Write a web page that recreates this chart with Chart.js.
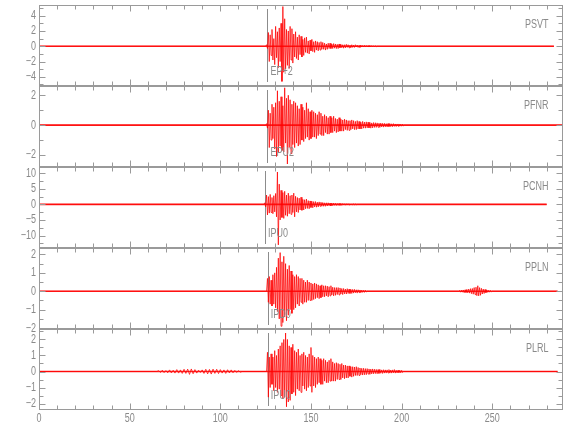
<!DOCTYPE html>
<html>
<head>
<meta charset="utf-8">
<script src="https://cdn.jsdelivr.net/npm/chart.js@4"></script>
<style>
  html, body { margin: 0; padding: 0; background: #fff; }
  #wrap { width: 580px; height: 440px; }
</style>
</head>
<body>
<div id="wrap"><canvas id="seis" width="580" height="440"></canvas></div>
<script>
// station traces, top to bottom
const stations = ["PSVT", "PFNR", "PCNH", "PPLN", "PLRL"];
const pickLabels = ["EP+2", "EPU2", "IPU0", "IPD0", "IPU0"];
const pickTimes = [126, 126, 124.7, 126.2, 126.2];
const eventStarts = [125.5, 125.5, 124.5, 126, 126];
const traceEnds = [284, 289, 280, 286, 286];
const sampleStep = 0.5;

const yMins = [-5.2, -2.8, -14, -2.05, -2.4];
const yMaxs = [5.4, 2.62, 12, 2.35, 2.65];
const yTickLabels = [[-4, -2, 0, 2, 4], [-2, 0, 2], [-10, -5, 0, 5, 10], [-2, -1, 0, 1, 2], [-2, -1, 0, 1, 2]];
const yMinorSteps = [1, 1, 2.5, 0.5, 0.5];
const xTickLabels = [0, 50, 100, 150, 200, 250];
const xMax = 289;

// amplitudes, one sample every 0.5 s from the event start
const psvtEvent = [0.2,-0.3,
  1.8,-2.0,1.5,-1.2,2.2,-1.8,1.0,-2.4,2.6,-1.5,
  1.9,-2.8,2.4,-2.0,3.0,-4.6,5.2,-3.4,3.6,-3.0,
  2.2,-2.5,2.0,-2.9,2.6,-1.8,2.3,-2.2,1.6,-1.4,
  1.9,-1.6,1.2,-1.8,1.5,-1.1,1.3,-1.4,0.9,-1.2,
  1.1,-0.8,1.2,-0.9,0.7,-1.0,0.8,-0.6,0.9,-0.7,
  0.6,-0.8,0.7,-0.5,0.6,-0.6,0.5,-0.5,0.6,-0.4,
  0.5,-0.4,0.4,-0.5,0.3,-0.4,0.4,-0.3,0.4,-0.3,
  0.3,-0.3,0.35,-0.25,0.3,-0.3,0.25,-0.3,0.3,-0.2,
  0.25,-0.2,0.2,-0.25,0.2,-0.2,0.25,-0.15,0.2,-0.2,
  0.15,-0.2,0.2,-0.15,0.15,-0.15,0.2,-0.1,0.15,-0.15,
  0.1,-0.15,0.15,-0.1,0.1,-0.1,0.12,-0.1,0.1,-0.08,
  0.08,-0.1,0.1,-0.08,0.08,-0.06,0.07,-0.08,0.06,-0.05];

const pfnrEvent = [0.1,-0.2,
  1.0,-1.5,0.8,-1.0,1.4,-0.9,1.2,-1.6,1.5,-2.1,
  2.3,-1.8,1.6,-1.4,1.9,-1.7,1.3,-1.8,2.5,-1.2,
  1.8,-2.6,2.0,-1.5,1.7,-1.9,1.4,-1.3,1.6,-1.5,
  1.5,-1.2,1.3,-1.4,1.1,-1.3,1.4,-1.0,1.2,-1.1,
  1.0,-0.9,1.5,-0.8,1.1,-1.0,0.9,-0.9,1.0,-0.8,
  0.9,-0.8,0.8,-0.9,0.7,-0.7,0.9,-0.6,0.8,-0.7,
  0.6,-0.7,0.7,-0.5,0.6,-0.6,0.5,-0.6,0.6,-0.5,
  0.5,-0.5,0.6,-0.4,0.45,-0.5,0.4,-0.45,0.5,-0.4,
  0.4,-0.4,0.35,-0.4,0.4,-0.3,0.35,-0.35,0.3,-0.35,
  0.3,-0.3,0.35,-0.25,0.3,-0.3,0.25,-0.3,0.3,-0.25,
  0.25,-0.25,0.2,-0.25,0.25,-0.2,0.2,-0.2,0.22,-0.18,
  0.2,-0.18,0.18,-0.2,0.15,-0.18,0.17,-0.15,0.16,-0.15,
  0.15,-0.14,0.13,-0.15,0.14,-0.12,0.12,-0.13,0.12,-0.11,
  0.1,-0.12,0.11,-0.1,0.1,-0.1,0.09,-0.1,0.1,-0.08,
  0.08,-0.09,0.08,-0.07,0.08,-0.07,0.06,-0.07,0.06,-0.05];

const pcnhEvent = [0.5,-0.8,
  3.0,-3.4,2.5,-2.8,3.2,-2.6,2.2,-3.0,2.8,-2.4,
  3.5,-4.0,10.4,-13.0,6.5,-5.0,4.5,-4.2,3.8,-4.5,
  4.2,-3.5,3.0,-3.8,3.6,-3.0,2.8,-3.2,3.0,-2.6,
  3.6,-4.0,2.6,-2.4,2.2,-2.6,2.0,-1.8,2.3,-1.9,
  1.6,-1.8,1.5,-1.4,1.7,-1.3,1.2,-1.4,1.1,-1.0,
  1.0,-1.1,0.9,-0.8,0.9,-0.9,0.7,-0.8,0.8,-0.6,
  0.7,-0.6,0.6,-0.6,0.5,-0.6,0.5,-0.5,0.5,-0.4,
  0.4,-0.5,0.4,-0.4,0.4,-0.3,0.35,-0.35,0.3,-0.3,
  0.3,-0.3,0.25,-0.3,0.25,-0.2,0.2,-0.25,0.2,-0.2,
  0.2,-0.15,0.15,-0.2,0.15,-0.15,0.12,-0.12,0.1,-0.1];

const pplnEvent = [
  0.7,-0.6,0.8,-0.7,0.6,-0.8,0.9,-0.7,1.0,-0.9,
  1.3,-1.1,1.8,-1.5,2.1,-1.9,1.6,-1.7,1.9,-1.4,
  1.5,-1.6,1.2,-1.3,1.4,-1.0,1.1,-1.2,0.9,-1.0,
  0.8,-0.9,0.9,-0.7,0.8,-0.8,0.7,-0.6,0.7,-0.7,
  0.6,-0.6,0.5,-0.6,0.6,-0.5,0.5,-0.5,0.45,-0.5,
  0.4,-0.45,0.45,-0.4,0.4,-0.35,0.35,-0.4,0.3,-0.35,
  0.35,-0.3,0.3,-0.3,0.3,-0.25,0.28,-0.3,0.25,-0.25,
  0.3,-0.2,0.22,-0.25,0.2,-0.22,0.2,-0.18,0.2,-0.2,
  0.18,-0.15,0.15,-0.18,0.15,-0.14,0.12,-0.15,0.14,-0.12,
  0.12,-0.12,0.1,-0.12,0.1,-0.1,0.1,-0.08,0.08,-0.1,
  0.08,-0.07,0.07,-0.08,0.06,-0.06,0.05,-0.06,0.05,-0.04];

const plrlEvent = [
  1.2,-1.6,0.9,-1.0,1.1,-0.8,0.9,-1.2,1.3,-1.0,
  1.0,-1.3,1.4,-1.1,1.6,-1.5,1.8,-1.7,2.0,-1.6,
  2.4,-2.2,2.0,-1.9,1.6,-1.8,1.5,-1.4,1.7,-1.3,
  1.3,-1.5,1.2,-1.1,1.4,-1.2,1.0,-1.3,1.1,-0.9,
  1.2,-1.1,1.0,-1.2,0.9,-1.0,1.1,-0.9,1.5,-1.3,
  1.0,-0.9,0.9,-1.0,0.8,-0.8,0.9,-0.7,0.8,-0.8,
  0.7,-0.8,0.8,-0.6,0.7,-0.7,0.6,-0.7,0.7,-0.6,
  0.8,-0.6,0.6,-0.6,0.5,-0.6,0.55,-0.5,0.5,-0.5,
  0.45,-0.5,0.5,-0.4,0.4,-0.45,0.4,-0.4,0.35,-0.4,
  0.35,-0.3,0.3,-0.35,0.3,-0.3,0.28,-0.25,0.3,-0.25,
  0.25,-0.25,0.22,-0.2,0.2,-0.22,0.2,-0.2,0.18,-0.2,
  0.18,-0.16,0.16,-0.18,0.15,-0.15,0.16,-0.14,0.14,-0.13,
  0.13,-0.14,0.12,-0.12,0.13,-0.11,0.1,-0.12,0.11,-0.1,
  0.1,-0.1,0.1,-0.09,0.12,-0.1,0.09,-0.1,0.1,-0.08,
  0.12,-0.1,0.08,-0.09,0.08,-0.07,0.07,-0.08,0.07,-0.06];

// smaller wave trains outside the main event
const pplnLateStart = 232;
const pplnLate = [0.04,-0.05,0.06,-0.05,0.07,-0.08,0.08,-0.07,0.1,-0.09,
  0.12,-0.1,0.14,-0.13,0.15,-0.16,0.2,-0.18,0.22,-0.24,
  0.3,-0.25,0.2,-0.22,0.16,-0.15,0.12,-0.12,0.1,-0.08,
  0.07,-0.06,0.05,-0.05,0.04,-0.03];
const plrlEarlyStart = 66;
const plrlEarlyStep = 1;
const plrlEarly = [0.05,-0.06,0.08,-0.07,0.06,-0.08,0.1,-0.09,0.08,-0.1,
  0.12,-0.1,0.1,-0.12,0.14,-0.12,0.15,-0.18,0.16,-0.14,
  0.12,-0.1,0.08,-0.06,0.1,-0.12,0.14,-0.15,0.13,-0.16,
  0.15,-0.12,0.14,-0.13,0.12,-0.1,0.1,-0.12,0.11,-0.09,
  0.1,-0.08,0.07,-0.06,0.05,-0.04];

const fontFamily = '"Liberation Sans", Arial, sans-serif';
const fontSize = 12.5;
const squeeze = 0.72; // the original lettering is a tall, narrow plotter font
const grayText = "#8a8a8a";
const frameColor = "#9a9a9a";
const traceColor = "rgba(255, 0, 0, 0.75)";

const segments = [
  [[eventStarts[0], sampleStep, psvtEvent]],
  [[eventStarts[1], sampleStep, pfnrEvent]],
  [[eventStarts[2], sampleStep, pcnhEvent]],
  [[eventStarts[3], sampleStep, pplnEvent], [pplnLateStart, sampleStep, pplnLate]],
  [[plrlEarlyStart, plrlEarlyStep, plrlEarly], [eventStarts[4], sampleStep, plrlEvent]],
];

function buildTrace(segs, end) {
  const pts = [{ x: 0, y: 0 }];
  segs.forEach(([start, step, vals]) => {
    pts.push({ x: start - step, y: 0 });
    vals.forEach((v, i) => pts.push({ x: start + i * step, y: v }));
    pts.push({ x: start + vals.length * step, y: 0 });
  });
  pts.push({ x: end, y: 0 });
  return pts;
}

const datasets = [];
const scales = {
  x: {
    type: "linear",
    position: "bottom",
    min: 0,
    max: xMax,
    afterFit: (s) => { s.height = 30; },
    ticks: { display: false },
    grid: { display: false, drawTicks: false },
    border: { display: false },
  },
};

stations.forEach((name, i) => {
  const id = "y" + i;
  scales[id] = {
    type: "linear",
    position: "left",
    stack: "traces",
    stackWeight: 1,
    weight: stations.length - i,
    min: yMins[i],
    max: yMaxs[i],
    afterFit: (s) => { s.width = 39; },
    ticks: { display: false },
    grid: { display: false, drawTicks: false },
    border: { display: false },
  };
  // the thin noise band along zero
  datasets.push({
    data: [{ x: 0, y: 0 }, { x: traceEnds[i], y: 0 }],
    yAxisID: id,
    borderColor: "rgba(255, 0, 0, 0.85)",
    borderWidth: 1.6,
  });
  datasets.push({
    data: buildTrace(segments[i], traceEnds[i]),
    yAxisID: id,
    borderColor: traceColor,
    borderWidth: 1,
  });
});

function line(ctx, x1, y1, x2, y2) {
  ctx.beginPath();
  ctx.moveTo(x1, y1);
  ctx.lineTo(x2, y2);
  ctx.stroke();
}

function narrowText(ctx, text, x, y, align) {
  ctx.save();
  ctx.translate(x, y);
  ctx.scale(squeeze, 1);
  ctx.textAlign = align;
  ctx.fillText(text, 0, 0);
  ctx.restore();
}

function fmt(v) {
  return v < 0 ? "\u2212" + Math.abs(v) : String(v);
}

const panelDecor = {
  id: "panelDecor",
  beforeDatasetsDraw(chart) {
    const ctx = chart.ctx;
    const xs = chart.scales.x;
    ctx.save();
    ctx.strokeStyle = "#8c8c8c";
    ctx.lineWidth = 1;
    stations.forEach((name, i) => {
      const ys = chart.scales["y" + i];
      const px = Math.round(xs.getPixelForValue(pickTimes[i])) + 0.5;
      line(ctx, px, ys.top + 4, px, ys.bottom - 4);
    });
    ctx.restore();
  },
  afterDraw(chart) {
    const ctx = chart.ctx;
    const xs = chart.scales.x;
    const area = chart.chartArea;
    const left = Math.round(area.left) + 0.5;
    const right = Math.round(area.right) - 0.5;
    ctx.save();
    ctx.strokeStyle = frameColor;
    ctx.lineWidth = 1;
    ctx.fillStyle = grayText;
    ctx.font = fontSize + "px " + fontFamily;
    ctx.textBaseline = "middle";

    stations.forEach((name, i) => {
      const ys = chart.scales["y" + i];
      const top = Math.round(ys.top) + 0.5;
      const bottom = Math.round(ys.bottom) - 0.5;
      ctx.strokeRect(left, top, right - left, bottom - top);

      // x ticks on top and bottom edges, pointing inward
      for (let v = 0; v <= xMax; v += 10) {
        const px = Math.round(xs.getPixelForValue(v)) + 0.5;
        const len = v % 50 === 0 ? 6 : 4;
        line(ctx, px, top, px, top + len);
        line(ctx, px, bottom, px, bottom - len);
      }
      // y ticks on both sides
      const step = yMinorSteps[i];
      for (let v = Math.ceil(yMins[i] / step) * step; v <= yMaxs[i]; v += step) {
        const py = Math.round(ys.getPixelForValue(v)) + 0.5;
        const len = yTickLabels[i].includes(v) ? 6 : 4;
        line(ctx, left, py, left + len, py);
        line(ctx, right, py, right - len, py);
      }
      yTickLabels[i].forEach((v) => {
        narrowText(ctx, fmt(v), area.left - 3, ys.getPixelForValue(v), "right");
      });

      narrowText(ctx, name, right - 14, ys.top + 20, "right");
      const pickX = xs.getPixelForValue(pickTimes[i]);
      narrowText(ctx, pickLabels[i], pickX + 3, ys.bottom - 14, "left");
    });

    xTickLabels.forEach((v) => {
      narrowText(ctx, String(v), xs.getPixelForValue(v), area.bottom + 9, "center");
    });
    ctx.restore();
  },
};

new Chart(document.getElementById("seis").getContext("2d"), {
  type: "line",
  data: { datasets },
  options: {
    responsive: false,
    animation: false,
    devicePixelRatio: 1,
    layout: { padding: { top: 5, right: 17, bottom: 0, left: 0 } },
    elements: { point: { radius: 0 }, line: { tension: 0 } },
    plugins: { legend: { display: false }, tooltip: { enabled: false } },
    scales,
  },
  plugins: [panelDecor],
});
</script>
</body>
</html>
